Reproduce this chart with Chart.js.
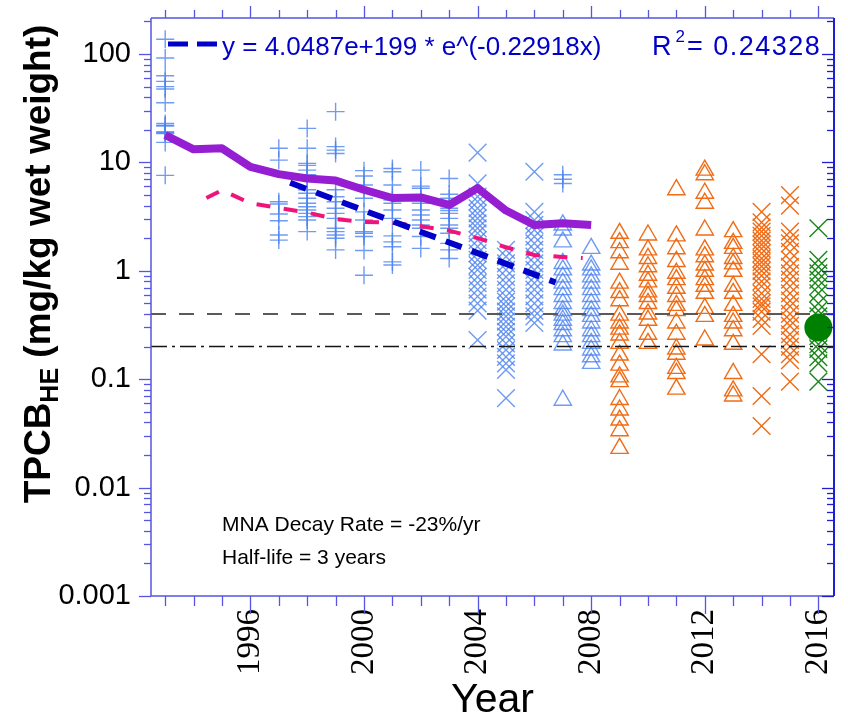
<!DOCTYPE html>
<html><head><meta charset="utf-8">
<script src="https://cdn.jsdelivr.net/npm/chart.js@4/dist/chart.umd.min.js"></script>
<style>html,body{margin:0;padding:0;background:#fff;}canvas{display:block;}</style>
</head><body>
<canvas id="c" width="848" height="721"></canvas>
<script>
// ---------- data ----------
const xTickYears = [1996, 2000, 2004, 2008, 2012, 2016];
const yTickValues = [0.001, 0.01, 0.1, 1, 10, 100];

const plusYears = [1993, 1997, 1998, 1999, 2000, 2001, 2002, 2003, 2007];
const plusValues = [
  [137, 92, 63, 56, 50, 47.6, 35.5, 22.9, 22, 21.7, 19.2, 18.8, 18.5, 15.3, 7.6],
  [13.5, 10.5, 4.34, 4.13, 3.34, 2.9, 2.14, 1.92],
  [20.6, 13.5, 9.8, 9.4, 8.5, 7.7, 6.9, 5.6, 5.2, 4.67, 4.2, 3.9, 3.64, 3.39, 3.16, 2.94, 2.3],
  [29.4, 14, 13, 12.1, 5.6, 4.83, 4.34, 3.78, 3.39, 3.05, 2.47, 2.3, 2.14, 2.0, 1.56],
  [8.4, 7.5, 6.2, 5.6, 4.67, 3.5, 2.94, 2.3, 2.22, 2.07, 1.54, 0.91],
  [8.8, 8.2, 6.2, 5.0, 4.5, 4.2, 3.64, 3.05, 2.1, 1.85, 1.67, 1.21, 1.13],
  [8.5, 6.05, 5.77, 4.83, 4.5, 4.2, 3.64, 3.27, 2.94, 2.65, 2.47, 2.07, 1.61],
  [7.1, 5.08, 4.67, 3.78, 3.6, 3.39, 3.05, 2.65, 2.47, 2.22, 1.79, 1.56, 1.3],
  [7.7, 7.0, 6.4]
];

const blueCrossYears = [2004, 2005, 2006];
const blueCrossValues = [
  [12.3, 6.4, 4.83, 4.34, 3.78, 3.39, 3.05, 2.74, 2.47, 2.22, 1.92, 1.67, 1.45, 1.26, 1.13, 1.02, 0.88, 0.77, 0.67, 0.58, 0.5, 0.43, 0.23],
  [1.56, 1.35, 1.17, 1.02, 0.88, 0.77, 0.67, 0.58, 0.52, 0.47, 0.42, 0.38, 0.34, 0.305, 0.274, 0.247, 0.214, 0.186, 0.161, 0.14, 0.122, 0.067],
  [8.2, 3.5, 2.94, 2.65, 2.38, 2.07, 1.79, 1.56, 1.35, 1.17, 1.02, 0.88, 0.77, 0.67, 0.58, 0.5, 0.43, 0.38, 0.33]
];

const blueTriYears = [2007, 2008];
const blueTriValues = [
  [2.65, 2.38, 1.85, 1.17, 1.02, 0.88, 0.77, 0.67, 0.58, 0.5, 0.43, 0.39, 0.35, 0.32, 0.28, 0.247, 0.207, 0.064],
  [1.61, 1.13, 1.02, 0.88, 0.77, 0.67, 0.58, 0.5, 0.43, 0.38, 0.33, 0.28, 0.247, 0.214, 0.186, 0.161, 0.14]
];

const orangeTriYears = [2009, 2010, 2011, 2012, 2013];
const orangeTriValues = [
  [2.22, 1.82, 1.47, 1.15, 0.77, 0.63, 0.53, 0.39, 0.33, 0.29, 0.256, 0.214, 0.167, 0.135, 0.105, 0.095, 0.065, 0.052, 0.042, 0.0335, 0.023],
  [2.14, 1.56, 1.3, 1.09, 0.91, 0.79, 0.64, 0.58, 0.5, 0.4, 0.35, 0.26, 0.214],
  [5.6, 2.1, 1.6, 1.22, 0.95, 0.83, 0.69, 0.58, 0.48, 0.43, 0.33, 0.26, 0.19, 0.17, 0.126, 0.113, 0.081],
  [8.5, 7.7, 5.2, 4.2, 2.38, 1.56, 1.35, 1.13, 0.99, 0.83, 0.72, 0.62, 0.45, 0.38, 0.23],
  [2.3, 1.79, 1.61, 1.3, 1.16, 0.99, 0.72, 0.62, 0.48, 0.38, 0.33, 0.28, 0.21, 0.113, 0.078, 0.07]
];

const orangeCrossYears = [2014, 2015];
const orangeCrossValues = [
  [3.5, 2.8, 2.5, 2.3, 2.1, 1.9, 1.75, 1.6, 1.45, 1.3, 1.2, 1.1, 1.0, 0.9, 0.8, 0.72, 0.62, 0.55, 0.5, 0.47, 0.42, 0.36, 0.31, 0.17, 0.07, 0.037],
  [5.0, 4.0, 2.3, 2.0, 1.79, 1.5, 1.26, 1.09, 0.95, 0.83, 0.72, 0.62, 0.53, 0.47, 0.4, 0.35, 0.31, 0.26, 0.23, 0.2, 0.17, 0.15, 0.095]
];

const greenCrossYears = [2016];
const greenCrossValues = [
  [2.47, 1.26, 1.09, 0.95, 0.83, 0.72, 0.62, 0.5, 0.43, 0.38, 0.28, 0.25, 0.21, 0.19, 0.16, 0.14, 0.095]
];

const greenMeanYear = [2016];
const greenMeanValue = [0.3];

const purpleYears = [1993, 1994, 1995, 1996, 1997, 1998, 1999, 2000, 2001, 2002, 2003, 2004, 2005, 2006, 2007, 2008];
const purpleValues = [17.9, 13.2, 13.5, 9.1, 7.8, 7.1, 6.8, 5.6, 4.7, 4.75, 4.05, 5.8, 3.6, 2.65, 2.75, 2.65];

const pinkYears = [1994.45, 1995, 1996, 1997, 1998, 1999, 2000, 2001, 2002, 2003, 2004, 2005, 2006, 2007, 2007.7];
const pinkValues = [4.7, 5.55, 4.2, 3.8, 3.45, 3.0, 2.82, 2.78, 2.58, 2.35, 2.0, 1.65, 1.4, 1.34, 1.31];

const fitYears = [1997.4, 2006.75];
const fitValues = [6.5, 0.78];

const refYears = [1992.5, 2016.55];
const refUpper = [0.4, 0.4];
const refLower = [0.2, 0.2];

// ---------- helpers ----------
function groupPoints(years, values) {
  const out = [];
  years.forEach((yr, i) => values[i].forEach(v => out.push({x: yr, y: v})));
  return out;
}
function linePoints(xs, ys) { return xs.map((x, i) => ({x: x, y: ys[i]})); }

const SANS = "'Liberation Sans', Arial, sans-serif";
const SERIF = "'Liberation Serif', 'Times New Roman', serif";
const BLUE_MK = 'rgba(75,130,240,0.8)';
const ORANGE = 'rgb(240,108,22)';
const GREEN_MK = 'rgb(25,135,25)';
const CLEAR = 'rgba(0,0,0,0)';

function markerSet(data, style, color, radius, order) {
  return {data: data, pointStyle: style, borderColor: color, backgroundColor: CLEAR,
          pointRadius: radius, pointHoverRadius: radius, pointBorderWidth: 1.4,
          showLine: false, order: order};
}
function lineSet(data, color, width, dash, order) {
  return {data: data, showLine: true, borderColor: color, backgroundColor: CLEAR,
          borderWidth: width, borderDash: dash, pointRadius: 0, pointHoverRadius: 0,
          tension: 0, borderJoinStyle: 'round', order: order};
}

const datasets = [
  {data: linePoints(greenMeanYear, greenMeanValue), pointStyle: 'circle', pointRadius: 14,
   pointHoverRadius: 14, backgroundColor: 'rgb(0,128,0)', borderColor: 'rgb(0,128,0)',
   pointBorderWidth: 0, showLine: false, order: 0},
  lineSet(linePoints(fitYears, fitValues), 'rgb(0,0,200)', 6, [17, 10.7], 1),
  lineSet(linePoints(pinkYears, pinkValues), 'rgb(240,20,122)', 4, [14, 13.5], 2),
  lineSet(linePoints(purpleYears, purpleValues), 'rgb(150,30,210)', 8, [], 3),
  lineSet(linePoints(refYears, refUpper), 'rgb(90,90,90)', 2, [15, 13], 4),
  lineSet(linePoints(refYears, refLower), 'rgb(20,20,20)', 1.5, [16, 5, 3, 5], 5),
  markerSet(groupPoints(greenCrossYears, greenCrossValues), 'crossRot', GREEN_MK, 12.5, 6),
  markerSet(groupPoints(orangeCrossYears, orangeCrossValues), 'crossRot', ORANGE, 12.5, 7),
  markerSet(groupPoints(orangeTriYears, orangeTriValues), 'triangle', ORANGE, 10, 8),
  markerSet(groupPoints(blueTriYears, blueTriValues), 'triangle', BLUE_MK, 10, 9),
  markerSet(groupPoints(blueCrossYears, blueCrossValues), 'crossRot', BLUE_MK, 12.5, 10),
  markerSet(groupPoints(plusYears, plusValues), 'cross', BLUE_MK, 9, 11)
];

// ---------- decoration plugin: frame, tick marks, texts ----------
const decor = {
  id: 'decor',
  afterDatasetsDraw(chart) {
    const ctx = chart.ctx, a = chart.chartArea;
    const xs = chart.scales.x, ys = chart.scales.y;
    ctx.save();
    ctx.lineWidth = 1.5;
    ctx.strokeStyle = 'rgb(85,85,225)';
    ctx.beginPath();
    ctx.moveTo(a.left, a.top); ctx.lineTo(a.left, a.bottom); ctx.lineTo(a.right, a.bottom);
    ctx.moveTo(a.left, a.top); ctx.lineTo(a.right, a.top);
    ctx.stroke();
    ctx.strokeStyle = 'rgb(30,30,210)';
    ctx.lineWidth = 2;
    ctx.beginPath(); ctx.moveTo(a.right, a.top); ctx.lineTo(a.right, a.bottom); ctx.stroke();
    ctx.lineWidth = 1.3;
    for (let e = -3; e <= 2; e++) {
      for (let m = 1; m <= 9; m++) {
        const v = m * Math.pow(10, e);
        if (v < ys.min - 1e-12 || v > ys.max) continue;
        const py = Math.round(ys.getPixelForValue(v)) + 0.5;
        const major = m === 1;
        ctx.strokeStyle = 'rgb(85,85,225)';
        ctx.beginPath(); ctx.moveTo(a.left, py); ctx.lineTo(a.left - (major ? 12 : 7), py); ctx.stroke();
        ctx.strokeStyle = 'rgb(30,30,210)';
        ctx.beginPath(); ctx.moveTo(a.right, py); ctx.lineTo(a.right - (major ? 12 : 7), py); ctx.stroke();
      }
    }
    ctx.strokeStyle = 'rgb(85,85,225)';
    for (let yr = Math.ceil(xs.min); yr <= xs.max; yr++) {
      const px = Math.round(xs.getPixelForValue(yr)) + 0.5;
      const major = yr % 4 === 0;
      ctx.beginPath(); ctx.moveTo(px, a.bottom); ctx.lineTo(px, a.bottom + (major ? 18 : 10)); ctx.stroke();
      ctx.beginPath(); ctx.moveTo(px, a.top); ctx.lineTo(px, a.top - (major ? 12 : 8)); ctx.stroke();
    }
    ctx.restore();
  },
  afterDraw(chart) {
    const ctx = chart.ctx;
    ctx.save();
    ctx.translate(50, 264);
    ctx.rotate(-Math.PI / 2);
    ctx.fillStyle = '#000';
    ctx.textBaseline = 'alphabetic';
    const fMain = 'bold 37px ' + SANS, fSub = 'bold 25px ' + SANS;
    ctx.font = fMain; const w1 = ctx.measureText('TPCB').width;
    const w3 = ctx.measureText(' (mg/kg wet weight)').width;
    ctx.font = fSub; const w2 = ctx.measureText('HE').width;
    let sx = -(w1 + w2 + w3) / 2;
    ctx.font = fMain; ctx.fillText('TPCB', sx, 0);
    ctx.font = fSub; ctx.fillText('HE', sx + w1, 8);
    ctx.font = fMain; ctx.fillText(' (mg/kg wet weight)', sx + w1 + w2, 0);
    ctx.restore();

    ctx.save();
    ctx.strokeStyle = 'rgb(0,0,200)'; ctx.lineWidth = 5; ctx.setLineDash([20, 9]);
    ctx.beginPath(); ctx.moveTo(168, 44); ctx.lineTo(217, 44); ctx.stroke();
    ctx.setLineDash([]);
    ctx.fillStyle = 'rgb(0,0,200)';
    ctx.textBaseline = 'alphabetic';
    ctx.font = '26px ' + SANS;
    ctx.fillText('y = 4.0487e+199 * e^(-0.22918x)', 222, 55);
    ctx.font = '27px ' + SANS;
    ctx.fillText('R', 652, 55);
    const rw = ctx.measureText('R').width;
    ctx.font = '17px ' + SANS;
    ctx.fillText('2', 652 + rw + 4, 42);
    const sw = ctx.measureText('2').width;
    ctx.font = '27px ' + SANS;
    ctx.letterSpacing = '1.5px';
    ctx.fillText('= 0.24328', 652 + rw + sw + 6, 55);
    ctx.letterSpacing = '0px';
    ctx.fillStyle = '#000';
    ctx.font = '21px ' + SANS;
    ctx.fillText('MNA Decay Rate = -23%/yr', 222, 531);
    ctx.fillText('Half-life = 3 years', 222, 564);
    ctx.restore();
  }
};

new Chart(document.getElementById('c'), {
  type: 'scatter',
  data: {datasets: datasets},
  options: {
    responsive: false,
    animation: false,
    devicePixelRatio: 1,
    layout: {padding: {top: 18, right: 9, left: 0, bottom: 0}},
    plugins: {legend: {display: false}, tooltip: {enabled: false}},
    scales: {
      x: {
        type: 'linear', position: 'bottom', min: 1992.5, max: 2016.55,
        grid: {display: false, drawTicks: false}, border: {display: false},
        afterBuildTicks: s => { s.ticks = xTickYears.map(v => ({value: v})); },
        afterFit: s => { s.height = 125; s.paddingLeft = 0; s.paddingRight = 0; },
        ticks: {minRotation: 90, maxRotation: 90, padding: 13, color: '#000',
                font: {family: SERIF, size: 33}, callback: v => String(v)},
        title: {display: true, text: 'Year', color: '#000',
                font: {family: SANS, size: 41, lineHeight: 1}, padding: {top: 0, bottom: 0}}
      },
      y: {
        type: 'logarithmic', position: 'left', min: 0.001, max: 215,
        grid: {display: false, drawTicks: false}, border: {display: false},
        afterBuildTicks: s => { s.ticks = yTickValues.map(v => ({value: v})); },
        afterFit: s => { s.width = 151; s.paddingTop = 0; s.paddingBottom = 0; },
        ticks: {padding: 20, color: '#000', font: {family: SANS, size: 29},
                callback: v => String(v)},
        title: {display: false}
      }
    }
  },
  plugins: [decor]
});
</script>
</body></html>
